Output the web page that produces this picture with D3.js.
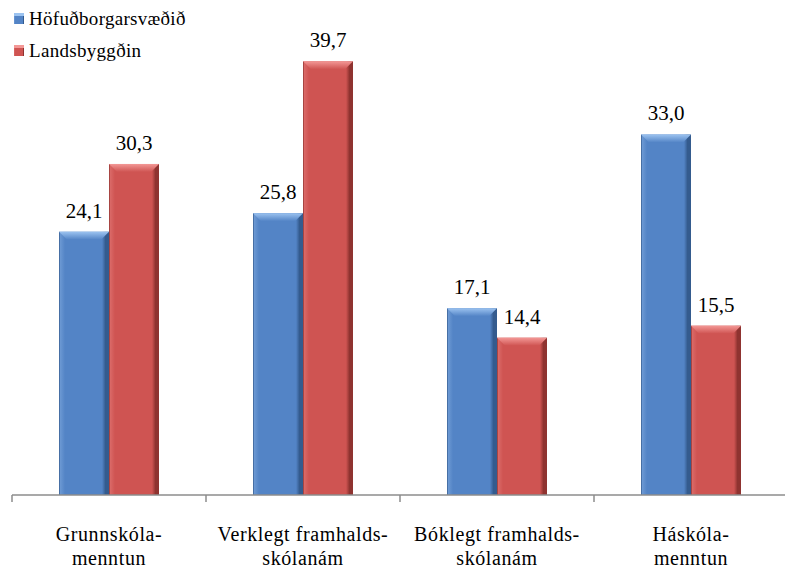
<!DOCTYPE html>
<html><head><meta charset="utf-8"><script src="https://d3js.org/d3.v7.min.js"></script></head>
<body style="margin:0">
<svg id="s" width="785" height="569"></svg>
<script>
  // data
  var categories = [["Grunnskóla-", "menntun"], ["Verklegt framhalds-", "skólanám"],
    ["Bóklegt framhalds-", "skólanám"], ["Háskóla-", "menntun"]];
  var seriesNames = ["Höfuðborgarsvæðið", "Landsbyggðin"];
  var capital = [24.1, 25.8, 17.1, 33.0];
  var rural = [30.3, 39.7, 14.4, 15.5];

  var colors = [
    { main: "#5384c6", light: "#9cc3f0", dark: "#345b8e", edge: "#6a97d2" },
    { main: "#cf5452", light: "#f39896", dark: "#8f3330", edge: "#d96866" }
  ];

  var svg = d3.select("#s");

  var keys = categories.map(function (c) { return c.join(" "); });
  var rows = keys.map(function (k, i) {
    return { key: k, lines: categories[i], values: [
      { s: 0, value: capital[i] },
      { s: 1, value: rural[i] }] };
  });

  var x0 = d3.scaleBand().domain(keys).range([12, 788]);
  var x1 = d3.scaleBand().domain([0, 1]).range([0, x0.bandwidth()]).paddingOuter(0.94);
  var y = d3.scaleLinear().domain([0, 40]).range([495, 58]);

  // gradients for the bevelled bars
  var defs = svg.append("defs");
  colors.forEach(function (c, i) {
    var g = defs.append("linearGradient").attr("id", "side" + i)
      .attr("x1", "0").attr("x2", "1").attr("y1", "0").attr("y2", "0");
    [[0, c.dark], [0.03, c.edge], [0.12, c.main], [0.86, c.main], [0.93, c.dark], [1, c.dark]]
      .forEach(function (st) { g.append("stop").attr("offset", st[0]).attr("stop-color", st[1]); });
    var t = defs.append("linearGradient").attr("id", "top" + i)
      .attr("x1", "0").attr("x2", "0").attr("y1", "0").attr("y2", "1");
    t.append("stop").attr("offset", "0").attr("stop-color", c.light);
    t.append("stop").attr("offset", "1").attr("stop-color", c.main);
  });

  var groups = svg.selectAll(".grp")
    .data(rows)
    .enter()
    .append("g")
    .attr("transform", function (d) { return "translate(" + x0(d.key) + ",0)"; });

  var bars = groups.selectAll(".bar")
    .data(function (d) { return d.values; })
    .enter()
    .append("g");

  bars.append("rect")
    .attr("x", function (d) { return x1(d.s); })
    .attr("y", function (d) { return y(d.value); })
    .attr("width", x1.bandwidth())
    .attr("height", function (d) { return y(0) - y(d.value); })
    .attr("fill", function (d) { return "url(#side" + d.s + ")"; });

  bars.append("path")
    .attr("d", function (d) {
      var l = x1(d.s), r = l + x1.bandwidth(), t = y(d.value), b = 8;
      return "M" + l + "," + t + "L" + r + "," + t + "L" + (r - b) + "," + (t + b) +
        "L" + (l + b) + "," + (t + b) + "Z";
    })
    .attr("fill", function (d) { return "url(#top" + d.s + ")"; });

  // x axis
  var axis = svg.append("g").attr("transform", "translate(0," + y(0) + ")");
  axis.append("line")
    .attr("x1", 12).attr("x2", 788)
    .attr("stroke", "#8c8c8c").attr("stroke-width", 1.5);
  axis.selectAll(".tick")
    .data(keys.concat(["end"]))
    .enter()
    .append("line")
    .attr("x1", function (d) { return d === "end" ? 788 : x0(d); })
    .attr("x2", function (d) { return d === "end" ? 788 : x0(d); })
    .attr("y1", 0).attr("y2", 7)
    .attr("stroke", "#8c8c8c").attr("stroke-width", 1.5);

  // all texts appended straight to the svg
  rows.forEach(function (r) {
    r.values.forEach(function (d) {
      svg.append("text")
        .attr("x", x0(r.key) + x1(d.s) + x1.bandwidth() / 2)
        .attr("y", y(d.value) - 14)
        .attr("text-anchor", "middle")
        .style("font-family", "'Liberation Serif'")
        .style("font-size", "21px")
        .text(d3.format(".1f")(d.value).replace(".", ","));
    });
    r.lines.forEach(function (line, i) {
      svg.append("text")
        .attr("x", x0(r.key) + x0.bandwidth() / 2)
        .attr("y", 541 + i * 24)
        .attr("text-anchor", "middle")
        .style("font-family", "'Liberation Serif'")
        .style("font-size", "20px")
        .style("letter-spacing", "0.6px")
        .text(line);
    });
  });

  // legend
  seriesNames.forEach(function (name, i) {
    var ly = 13 + i * 32;
    svg.append("rect").attr("x", 14).attr("y", ly)
      .attr("width", 10).attr("height", 11).attr("fill", "url(#side" + i + ")");
    svg.append("rect").attr("x", 14).attr("y", ly)
      .attr("width", 10).attr("height", 3).attr("fill", colors[i].light);
    svg.append("text")
      .attr("x", 29).attr("y", ly + 12)
      .style("font-family", "'Liberation Serif'")
      .style("font-size", "19px")
      .style("letter-spacing", "0.3px")
      .text(name);
  });
</script></body></html>
